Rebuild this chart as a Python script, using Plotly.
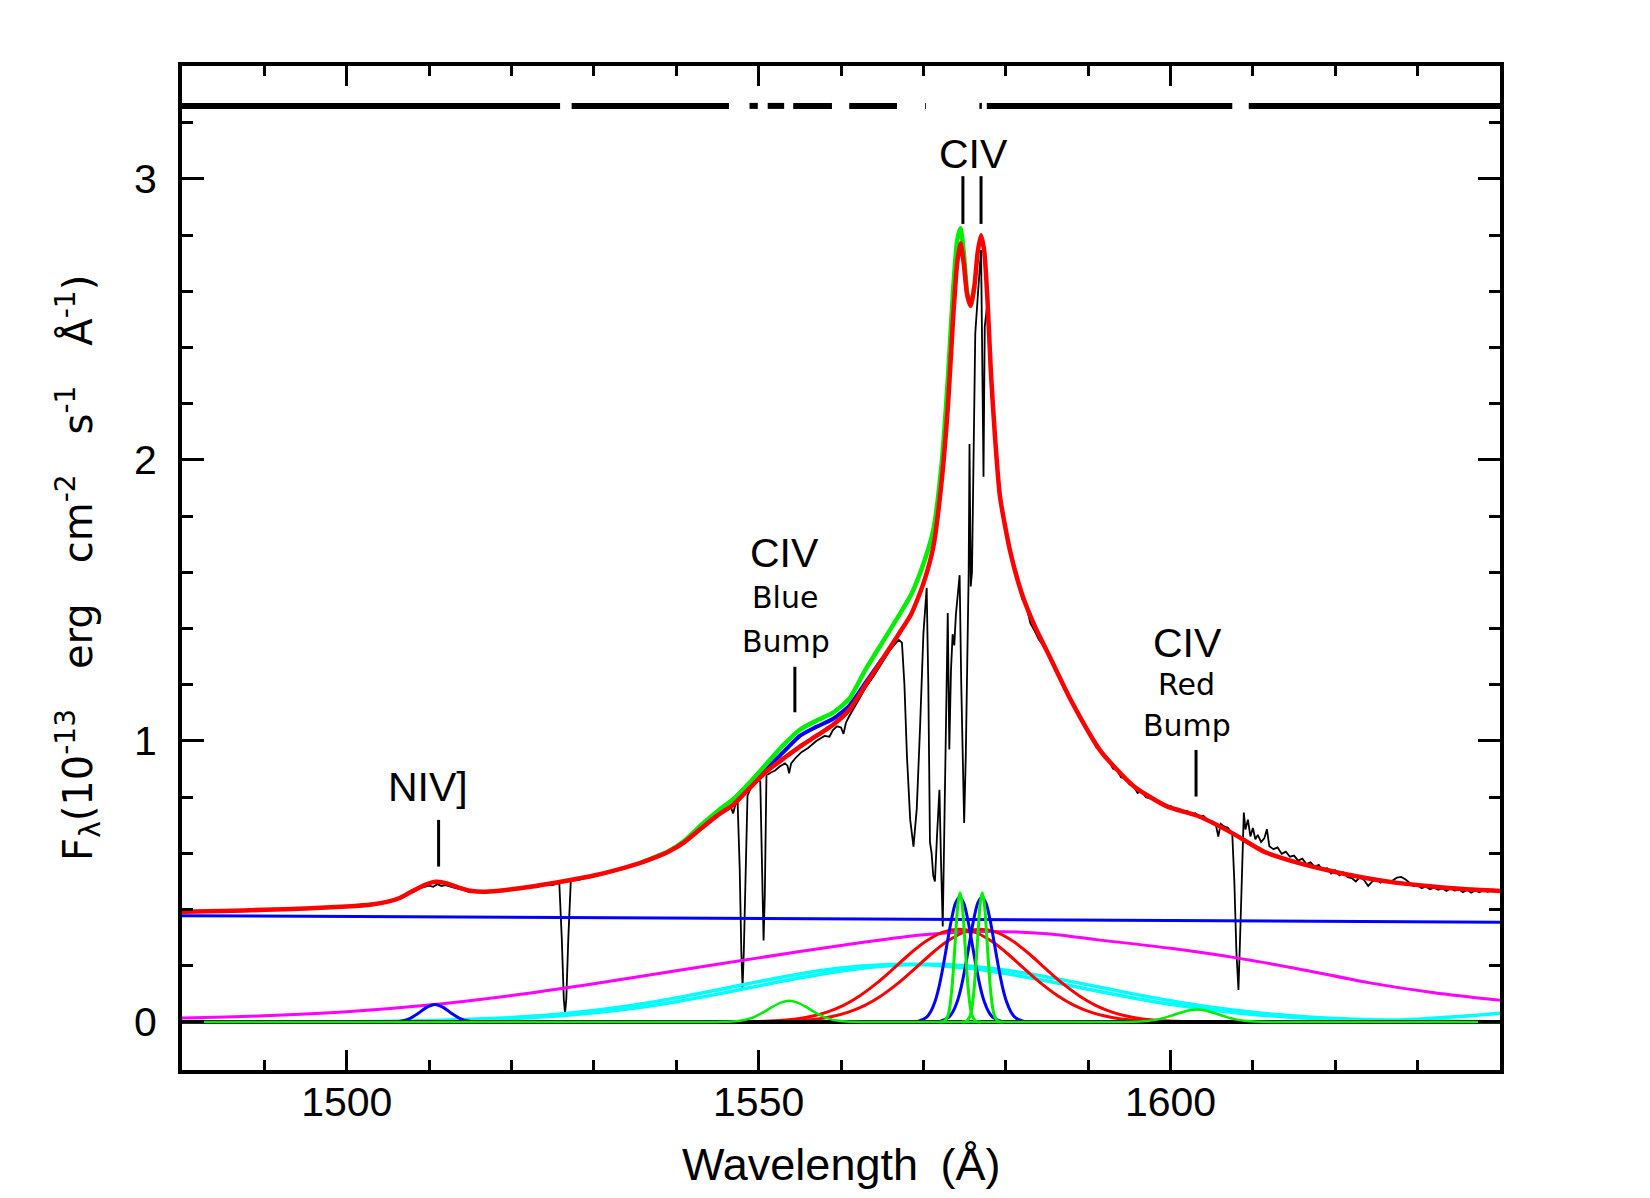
import plotly.graph_objects as go

# ---------------- data ----------------
# observed spectrum (black)
spec_wave = [1480.0,1481.0,1482.0,1483.0,1484.0,1485.0,1486.0,1487.0,1488.0,1489.0,1490.0,1491.0,1492.0,1493.0,1494.0,1495.0,1496.0,1497.0,1498.0,1499.0,
             1500.0,1501.0,1502.0,1503.0,1504.0,1505.0,1506.0,1507.0,1508.0,1509.0,1510.0,1510.5,1511.0,1511.5,1512.0,1513.0,1514.0,1515.0,1516.0,1517.0,
             1518.0,1519.0,1520.0,1521.0,1522.0,1523.0,1524.0,1525.0,1525.8,1526.1,1526.35,1526.5,1526.65,1526.9,1527.2,1528.0,1529.0,1530.0,1531.0,1532.0,
             1533.0,1534.0,1535.0,1536.0,1537.0,1538.0,1539.0,1540.0,1541.0,1542.0,1543.0,1544.0,1545.0,1546.0,1546.6,1546.9,1547.2,1547.45,1547.7,1547.9,
             1548.05,1548.2,1548.4,1548.65,1549.0,1549.5,1550.0,1550.2,1550.4,1550.6,1550.75,1550.95,1551.5,1552.0,1552.6,1553.2,1553.5,1553.7,1553.95,1554.5,
             1555.2,1556.0,1557.0,1558.0,1558.6,1559.0,1559.5,1560.0,1560.3,1560.6,1561.0,1562.0,1563.0,1564.0,1565.0,1566.0,1566.6,1567.0,1567.4,1567.7,
             1568.0,1568.4,1568.8,1569.2,1569.6,1570.0,1570.4,1570.6,1570.8,1571.0,1571.2,1571.4,1571.65,1571.95,1572.15,1572.35,1572.55,1572.8,1572.96,1573.15,
             1573.35,1573.55,1573.75,1573.95,1574.2,1574.4,1574.6,1574.8,1574.95,1575.15,1575.35,1575.5,1575.6,1575.75,1575.9,1576.1,1576.3,1576.6,1576.85,1577.0,
             1577.15,1577.3,1577.45,1577.7,1578.0,1578.3,1578.7,1579.1,1579.5,1580.0,1580.5,1581.0,1581.5,1582.0,1582.5,1583.0,1583.5,1584.0,1584.5,1585.0,
             1585.5,1586.0,1586.5,1587.0,1587.5,1588.0,1588.5,1589.0,1589.5,1590.0,1590.5,1591.0,1591.5,1592.0,1592.5,1593.0,1593.5,1594.0,1594.5,1595.0,
             1595.5,1596.0,1596.5,1597.0,1597.5,1598.0,1598.5,1599.0,1599.5,1600.0,1600.5,1601.0,1601.5,1602.0,1602.5,1603.0,1603.5,1604.0,1604.5,1605.0,
             1605.5,1605.8,1606.1,1606.5,1607.0,1607.5,1607.75,1608.0,1608.25,1608.5,1608.75,1608.9,1609.1,1609.4,1609.7,1610.0,1610.3,1610.6,1611.0,1611.4,
             1611.7,1612.0,1612.5,1613.0,1613.5,1614.0,1614.5,1615.0,1615.5,1616.0,1616.5,1617.0,1617.5,1618.0,1618.5,1619.0,1619.5,1620.0,1620.5,1621.0,
             1621.5,1622.0,1622.5,1623.0,1623.5,1624.0,1624.5,1625.0,1625.5,1626.0,1626.5,1627.0,1627.5,1628.0,1628.5,1629.0,1629.5,1630.0,1630.5,1631.0,
             1631.5,1632.0,1632.5,1633.0,1633.5,1634.0,1634.5,1635.0,1635.5,1636.0,1636.5,1637.0,1637.5,1638.0,1638.5,1639.0,1640.0]
spec_flux = [0.390,0.394,0.391,0.396,0.393,0.397,0.394,0.399,0.396,0.401,0.398,0.403,0.400,0.405,0.401,0.406,0.404,0.409,0.406,0.412,
             0.409,0.416,0.413,0.421,0.420,0.430,0.437,0.449,0.462,0.477,0.485,0.481,0.490,0.484,0.487,0.478,0.471,0.461,0.466,0.460,
             0.468,0.465,0.474,0.472,0.481,0.479,0.488,0.487,0.496,0.300,0.080,0.032,0.080,0.300,0.503,0.505,0.513,0.518,0.525,0.533,
             0.541,0.553,0.558,0.572,0.580,0.596,0.603,0.624,0.638,0.662,0.686,0.708,0.733,0.752,0.768,0.742,0.776,0.780,0.550,0.250,
             0.122,0.250,0.550,0.805,0.830,0.848,0.862,0.855,0.600,0.290,0.450,0.878,0.888,0.895,0.910,0.920,0.912,0.885,0.920,0.940,
             0.960,0.975,1.000,1.018,1.015,1.038,1.052,1.048,1.025,1.065,1.088,1.140,1.190,1.232,1.278,1.325,1.346,1.360,1.350,1.200,
             0.950,0.720,0.624,0.760,1.050,1.380,1.545,1.200,0.640,0.600,0.520,0.500,0.660,0.826,0.560,0.340,0.700,1.200,1.455,0.970,
             1.250,1.380,1.340,1.450,1.540,1.590,1.200,0.850,0.708,0.950,1.265,1.600,2.057,1.550,1.600,2.000,2.450,2.580,2.700,2.747,
             2.350,1.940,2.474,2.540,2.400,2.220,2.060,1.910,1.815,1.745,1.672,1.610,1.562,1.505,1.478,1.418,1.392,1.362,1.342,1.314,
             1.290,1.250,1.226,1.192,1.166,1.138,1.118,1.082,1.066,1.032,1.012,0.976,0.966,0.940,0.930,0.902,0.896,0.870,0.868,0.846,
             0.840,0.815,0.823,0.800,0.796,0.788,0.780,0.774,0.766,0.769,0.757,0.759,0.748,0.751,0.740,0.743,0.728,0.734,0.718,0.714,
             0.702,0.660,0.705,0.696,0.690,0.668,0.500,0.250,0.114,0.350,0.620,0.745,0.685,0.720,0.660,0.690,0.650,0.666,0.640,0.654,
             0.686,0.625,0.615,0.621,0.598,0.606,0.588,0.592,0.574,0.581,0.562,0.568,0.552,0.559,0.540,0.547,0.528,0.540,0.522,0.532,
             0.515,0.512,0.500,0.515,0.505,0.484,0.500,0.508,0.496,0.505,0.498,0.504,0.514,0.516,0.508,0.497,0.484,0.486,0.476,0.482,
             0.472,0.478,0.470,0.476,0.466,0.475,0.468,0.472,0.462,0.470,0.460,0.468,0.462,0.470,0.463,0.469,0.465]

# total fitted model (red)
model_wave = [1480,1485,1490,1495,1500,1503,1505,1506.5,1508,1509.5,1510.8,1512,1513.5,1515,1516.5,1518.5,1521,1524,1527,1530,
              1533,1536,1539,1541,1543,1545,1547,1549,1551,1553,1555,1557,1559,1561,1563,1565,1567,1568.5,1570,1571.2,
              1572.2,1573,1573.6,1574.1,1574.5,1574.9,1575.3,1575.75,1576.2,1576.6,1577.0,1577.4,1577.8,1578.2,1578.7,1579.3,1580.5,1582,1583.5,1585.5,
              1588,1591.5,1595.5,1599.5,1603.5,1607.5,1611.5,1615.5,1619.5,1623.5,1627.5,1631.5,1635.5,1640]
model_flux = [0.392,0.395,0.399,0.404,0.411,0.418,0.428,0.442,0.466,0.488,0.499,0.494,0.479,0.467,0.463,0.467,0.476,0.489,0.504,0.521,
              0.543,0.570,0.605,0.640,0.688,0.735,0.775,0.835,0.893,0.937,0.980,1.018,1.057,1.110,1.200,1.290,1.380,1.450,1.560,1.690,
              1.920,2.200,2.500,2.700,2.771,2.700,2.590,2.548,2.620,2.740,2.800,2.740,2.560,2.310,2.080,1.870,1.680,1.520,1.410,1.290,
              1.140,0.965,0.840,0.768,0.731,0.672,0.604,0.566,0.537,0.513,0.495,0.483,0.473,0.466]

# unabsorbed model (green), where it departs from the red one
green_total_wave = [1536,1539,1541,1543,1545,1547,1549,1551,1553,1555,1557,1559,1561,1563,1565,1567,1568.5,1570,1571.2,1572.2,
                    1573,1573.6,1574.1,1574.5,1574.9,1575.3,1575.75,1576.2]
green_total_flux = [0.571,0.607,0.645,0.700,0.750,0.795,0.855,0.920,0.985,1.040,1.072,1.100,1.150,1.255,1.350,1.445,1.520,1.630,1.750,1.980,
                    2.300,2.600,2.780,2.825,2.740,2.600,2.550,2.620]

# alternative model (blue), visible under the blue bump
blue_total_wave = [1547,1549,1551,1553,1555,1557,1559,1561,1563,1565]
blue_total_flux = [0.780,0.840,0.902,0.960,1.018,1.050,1.078,1.125,1.208,1.292]

# continuum (blue)
cont_wave = [1480,1500,1520,1550,1580,1610,1640]
cont_flux = [0.378,0.375,0.372,0.366,0.362,0.359,0.355]

# very broad component (magenta)
magenta_wave = [1480,1490,1500,1510,1520,1530,1540,1550,1560,1570,1577,1585,1591,1600,1608,1616,1624,1632,1640]
magenta_flux = [0.014,0.022,0.036,0.060,0.094,0.136,0.182,0.228,0.272,0.310,0.322,0.314,0.293,0.262,0.228,0.186,0.140,0.104,0.077]

# broad CIV doublet components (cyan)
cyan_a_wave = [1480,1490,1500,1510,1520,1525,1530,1535,1540,1545,1550,1555,1560,1567.7,1575,1580,1585,1590,1595,1600,1605,1610,1615,1625,1640]
cyan_a_flux = [0.0,0.0002,0.0011,0.0047,0.0155,0.0258,0.0408,0.0608,0.0857,0.114,0.1436,0.171,0.1917,0.205,0.193,0.1726,0.146,0.1165,0.0879,0.0627,0.0422,0.0268,0.0161,0.0049,0.0005]
cyan_b_wave = [1480,1490,1500,1510,1520,1525,1530,1535,1540,1545,1550,1555,1560,1565,1570.3,1575,1580,1585,1590,1595,1600,1605,1610,1615,1625,1640]
cyan_b_flux = [0.0,0.0001,0.0007,0.0033,0.0116,0.0199,0.0324,0.0498,0.0722,0.099,0.1284,0.157,0.1816,0.1986,0.205,0.200,0.184,0.1604,0.132,0.1025,0.0753,0.0522,0.0342,0.0212,0.0068,0.0008]
heii_wave = [1612,1620,1625,1630,1635,1640]
heii_flux = [0.0,0.002,0.005,0.010,0.019,0.031]

# intermediate CIV doublet components (red)
red_a_wave = [1542.3,1547.3,1551.3,1554.3,1556.3,1558.3,1560.3,1562.3,1564.3,1566.3,1568.3,1570.3,1572.3,1574.3,1576.3,1578.3,1580.3,1582.3,1584.3,1586.3,1588.3,1590.3,1592.3,1594.3,1597.3,1601.3,1606.3]
red_b_wave = [1544.9,1549.9,1553.9,1556.9,1558.9,1560.9,1562.9,1564.9,1566.9,1568.9,1570.9,1572.9,1574.9,1576.9,1578.9,1580.9,1582.9,1584.9,1586.9,1588.9,1590.9,1592.9,1594.9,1596.9,1599.9,1603.9,1608.9]
red_comp_flux = [0.0,0.0006,0.0032,0.0099,0.0192,0.035,0.0591,0.0933,0.137,0.188,0.241,0.287,0.319,0.330,0.319,0.287,0.241,0.188,0.137,0.0933,0.0591,0.035,0.0192,0.0099,0.0032,0.0006,0.0]

# narrow-ish CIV doublet components (blue)
blue_a_wave = [1568.4,1569.4,1570.4,1570.9,1571.4,1571.9,1572.4,1572.9,1573.4,1573.9,1574.4,1574.9,1575.4,1575.9,1576.4,1576.9,1577.4,1577.9,1578.4,1579.4,1580.4]
blue_b_wave = [1571.1,1572.1,1573.1,1573.6,1574.1,1574.6,1575.1,1575.6,1576.1,1576.6,1577.1,1577.6,1578.1,1578.6,1579.1,1579.6,1580.1,1580.6,1581.1,1582.1,1583.1]
blue_comp_flux = [0.0003,0.0028,0.0173,0.037,0.0717,0.125,0.198,0.282,0.363,0.423,0.445,0.423,0.363,0.282,0.198,0.125,0.0717,0.037,0.0173,0.0028,0.0003]

# narrowest CIV doublet components (green)
green_a_wave = [1571.95,1572.45,1572.95,1573.2,1573.45,1573.7,1573.95,1574.2,1574.45,1574.7,1574.95,1575.2,1575.45,1575.7,1575.95,1576.45,1576.95]
green_b_wave = [1574.65,1575.15,1575.65,1575.9,1576.15,1576.4,1576.65,1576.9,1577.15,1577.4,1577.65,1577.9,1578.15,1578.4,1578.65,1579.15,1579.65]
green_comp_flux = [0.0,0.0018,0.0202,0.0525,0.115,0.211,0.325,0.422,0.460,0.422,0.325,0.211,0.115,0.0525,0.0202,0.0018,0.0]

# CIV blue bump (green), CIV red bump (green), NIV] (blue)
bb_wave = [1480,1544.7,1545.7,1546.7,1547.7,1548.7,1549.7,1550.7,1551.7,1552.7,1553.7,1554.7,1555.7,1556.7,1557.7,1558.7,1559.7,1560.7,1561.7,1562.7,1572]
bb_flux = [0.0,0.0001,0.0004,0.0015,0.0042,0.0101,0.0209,0.0365,0.0545,0.069,0.075,0.069,0.0545,0.0365,0.0209,0.0101,0.0042,0.0015,0.0004,0.0001,0.0]
rb_wave = [1572,1594.2,1595.2,1596.2,1597.2,1598.2,1599.2,1600.2,1601.2,1602.2,1603.2,1604.2,1605.2,1606.2,1607.2,1608.2,1609.2,1610.2,1611.2,1612.2,1640]
rb_flux = [0.0,0.0001,0.0005,0.0013,0.0034,0.0074,0.014,0.0231,0.033,0.041,0.044,0.041,0.033,0.0231,0.014,0.0074,0.0034,0.0013,0.0005,0.0001,0.0]
niv_wave = [1504.7,1505.7,1506.7,1507.7,1508.7,1509.7,1510.7,1511.7,1512.7,1513.7,1514.7,1515.7,1516.7]
niv_flux = [0.0001,0.0008,0.0039,0.0131,0.031,0.052,0.062,0.052,0.031,0.0131,0.0039,0.0008,0.0001]

# fitting-mask bar at the top
mask_start = [1480,1527.3,1548.9,1551.1,1554.2,1561.0,1570.2,1576.8,1577.7,1609.5]
mask_end = [1525.9,1546.4,1549.9,1553.1,1558.9,1566.8,1570.3,1577.1,1607.5,1640]
mask_level = 3.26

zero_wave = [1480, 1640]
zero_flux = [0.0, 0.0]

x_tick_vals = [1500, 1550, 1600]
y_tick_vals = [0, 1, 2, 3]

# ---------------- figure ----------------
fig = go.Figure()

def line(x, y, color, width, shape='spline', smoothing=0.8):
    ln = dict(color=color, width=width, shape=shape)
    if shape == 'spline':
        ln['smoothing'] = smoothing
    fig.add_trace(go.Scatter(x=x, y=y, mode='lines', line=ln,
                             hoverinfo='skip', showlegend=False))

RED, GREEN, BLUE, MAG, CYAN = '#ff0000', '#00ee00', '#0000ff', '#ff00ff', '#00ffff'

# observed spectrum
line(spec_wave, spec_flux, 'black', 1.8, shape='linear')
# total models
line(blue_total_wave, blue_total_flux, BLUE, 4, smoothing=0.6)
line(green_total_wave, green_total_flux, GREEN, 4.5, smoothing=0.6)
line(model_wave, model_flux, RED, 4.5, smoothing=0.6)
# components
line(cyan_a_wave, cyan_a_flux, CYAN, 3.5)
line(cyan_b_wave, cyan_b_flux, CYAN, 3.5)
line(heii_wave, heii_flux, CYAN, 3.5)
line(magenta_wave, magenta_flux, MAG, 3)
line(cont_wave, cont_flux, BLUE, 3, shape='linear')
line(red_a_wave, red_comp_flux, RED, 3)
line(red_b_wave, red_comp_flux, RED, 3)
line(niv_wave, niv_flux, BLUE, 3)
line(blue_a_wave, blue_comp_flux, BLUE, 3)
line(blue_b_wave, blue_comp_flux, BLUE, 3)
# zero line
line(zero_wave, zero_flux, 'black', 4, shape='linear')
line(bb_wave, bb_flux, GREEN, 2.5)
line(rb_wave, rb_flux, GREEN, 2.5)
line(green_a_wave, green_comp_flux, GREEN, 3)
line(green_b_wave, green_comp_flux, GREEN, 3)

# mask bar
bx, by = [], []
for s, e in zip(mask_start, mask_end):
    bx += [s, e, None]
    by += [mask_level, mask_level, None]
fig.add_trace(go.Scatter(x=bx, y=by, mode='lines', line=dict(color='black', width=6),
                         hoverinfo='skip', showlegend=False))

# line identification labels
TICKFONT = 'Liberation Sans'
LABFONT = 'DejaVu Sans'
ann = []
shapes = []

def label(x, y, text, fam, size):
    ann.append(dict(x=x, y=y, xref='x', yref='y', text=text, showarrow=False,
                    font=dict(family=fam, size=size, color='black'),
                    xanchor='center', yanchor='middle'))

def vtick(x, y0, y1):
    shapes.append(dict(type='line', xref='x', yref='y', x0=x, x1=x, y0=y0, y1=y1,
                       line=dict(color='black', width=3)))

label(1576.1, 3.09, 'CIV', TICKFONT, 41)
vtick(1574.8, 2.84, 3.01)
vtick(1577.0, 2.84, 3.01)

label(1509.9, 0.835, 'NIV]', TICKFONT, 41)
vtick(1511.15, 0.553, 0.719)

label(1553.1, 1.67, 'CIV', TICKFONT, 41)
label(1553.2, 1.51, 'Blue', LABFONT, 30)
label(1553.3, 1.355, 'Bump', LABFONT, 30)
vtick(1554.4, 1.102, 1.264)

label(1602.1, 1.35, 'CIV', TICKFONT, 41)
label(1602.0, 1.2, 'Red', LABFONT, 30)
label(1602.0, 1.055, 'Bump', LABFONT, 30)
vtick(1603.1, 0.802, 0.968)

# axis titles
ann.append(dict(x=0.5, y=-0.0946, xref='paper', yref='paper', showarrow=False,
                text='Wavelength\u2002(Å)', xanchor='center', yanchor='middle',
                font=dict(family=TICKFONT, size=45, color='black')))
ann.append(dict(x=-0.079, y=0.5, xref='paper', yref='paper', showarrow=False, textangle=-90,
                text='F<sub>λ</sub>(10<sup>-13</sup>\u2003erg\u2003cm<sup>-2</sup>\u2003s<sup>-1</sup>\u2003Å<sup>-1</sup>)',
                xanchor='center', yanchor='middle',
                font=dict(family=LABFONT, size=40, color='black')))

axis_common = dict(showgrid=False, zeroline=False, showline=True, linecolor='black', linewidth=4,
                   mirror='ticks', ticks='inside', tickcolor='black', tickwidth=3,
                   tickfont=dict(family=TICKFONT, size=41, color='black'))

fig.update_layout(
    width=1650, height=1198,
    margin=dict(l=182, r=150, t=66, b=128),
    plot_bgcolor='white', paper_bgcolor='white',
    showlegend=False,
    annotations=ann, shapes=shapes,
    xaxis=dict(range=[1480, 1640], tickvals=x_tick_vals, ticklen=20, ticklabelstandoff=-7,
               minor=dict(ticks='inside', ticklen=10, tickwidth=3, dtick=10, tick0=1480, tickcolor='black', showgrid=False),
               **axis_common),
    yaxis=dict(range=[-0.171, 3.402], tickvals=y_tick_vals, ticklen=22, ticklabelstandoff=13,
               minor=dict(ticks='inside', ticklen=11, tickwidth=3, dtick=0.2, tick0=0, tickcolor='black', showgrid=False),
               **axis_common),
)

fig.write_html('out.html')
